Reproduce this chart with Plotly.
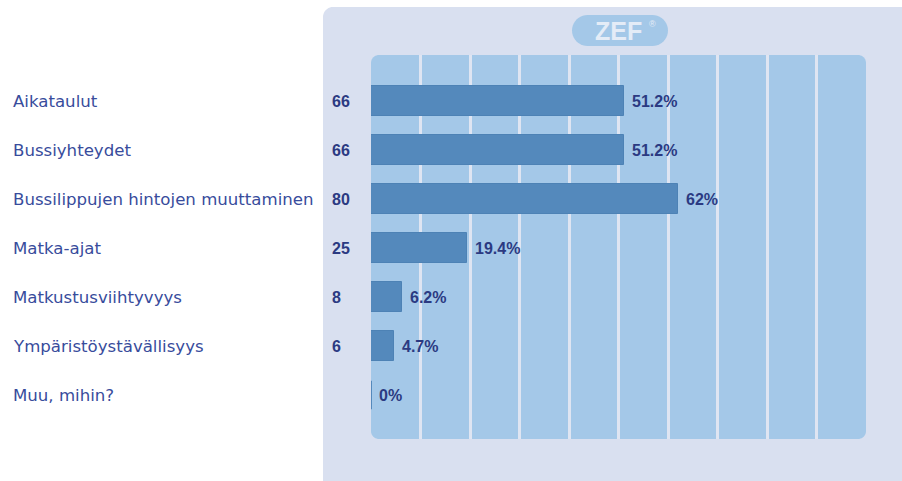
import math
import plotly.graph_objects as go

# ---------------- data ----------------
categories = [
    "Aikataulut",
    "Bussiyhteydet",
    "Bussilippujen hintojen muuttaminen",
    "Matka-ajat",
    "Matkustusviihtyvyys",
    "Ympäristöystävällisyys",
    "Muu, mihin?",
]
counts = [66, 66, 80, 25, 8, 6, 0]
percents = [51.2, 51.2, 62, 19.4, 6.2, 4.7, 0]
pct_labels = ["51.2%", "51.2%", "62%", "19.4%", "6.2%", "4.7%", "0%"]
grid_ticks = [10, 20, 30, 40, 50, 60, 70, 80, 90]

# ---------------- geometry / style ----------------
W, H = 902, 481
L, R, T, B = 371, 866, 55, 439            # plot area in pixels
ROW0, ROWSTEP = 101, 49                   # first row centre / row spacing (px)

PANEL = "#d9e0f0"
PLOTBG = "#a4c8e8"
GRID = "#dfe5f2"
BAR = "#5489bc"
BAR_LINE = "#4d82b5"
LABEL_COL = "#384c9c"
NUM_COL = "#2b3a82"


def px_x(px):
    return (px - L) / (R - L)


def px_y(py):
    return (B - py) / (B - T)


def rounded_path(x0, y0, x1, y1, r, corners=(True, True, True, True)):
    """Rounded rectangle in pixel coords -> SVG path in paper coords.
    corners: (top-left, top-right, bottom-right, bottom-left)"""
    pts = []

    def arc(cx, cy, a0, a1, rad):
        n = 10
        for k in range(n + 1):
            a = math.radians(a0 + (a1 - a0) * k / n)
            pts.append((cx + rad * math.cos(a), cy + rad * math.sin(a)))

    tl, tr, br, bl = corners
    if tl:
        arc(x0 + r, y0 + r, 180, 270, r)
    else:
        pts.append((x0, y0))
    if tr:
        arc(x1 - r, y0 + r, 270, 360, r)
    else:
        pts.append((x1, y0))
    if br:
        arc(x1 - r, y1 - r, 0, 90, r)
    else:
        pts.append((x1, y1))
    if bl:
        arc(x0 + r, y1 - r, 90, 180, r)
    else:
        pts.append((x0, y1))
    return "M " + " L ".join(f"{px_x(x):.5f},{px_y(y):.5f}" for x, y in pts) + " Z"


shapes = [
    dict(type="path", xref="paper", yref="paper", layer="below",
         path=rounded_path(323, 7, 930, 510, 10, (True, False, False, False)),
         fillcolor=PANEL, line=dict(width=0)),
    dict(type="path", xref="paper", yref="paper", layer="below",
         path=rounded_path(L, T, R, B, 8),
         fillcolor=PLOTBG, line=dict(width=0)),
    dict(type="path", xref="paper", yref="paper", layer="below",
         path=rounded_path(572, 15, 668, 46, 15.5),
         fillcolor=PLOTBG, line=dict(width=0)),
]

# thin marker for zero-valued bars
for i, v in enumerate(percents):
    if v == 0:
        shapes.append(dict(type="line", xref="x", yref="y", layer="above",
                           x0=v, x1=v, y0=i - 0.29, y1=i + 0.29,
                           line=dict(color=BAR, width=2)))

fig = go.Figure()
fig.add_trace(go.Bar(
    x=percents,
    y=list(range(len(categories))),
    orientation="h",
    width=0.6,
    marker=dict(color=BAR, line=dict(color=BAR_LINE, width=1)),
    hoverinfo="skip",
    showlegend=False,
))

annotations = []
for i, (cat, c, v, lab) in enumerate(zip(categories, counts, percents, pct_labels)):
    annotations.append(dict(
        text=cat, xref="paper", yref="y", x=px_x(11), y=i,
        xanchor="left", yanchor="middle", showarrow=False,
        font=dict(family="DejaVu Sans", size=16.6, color=LABEL_COL)))
    if c:
        annotations.append(dict(
            text=str(c), xref="paper", yref="y", x=px_x(330), y=i,
            xanchor="left", yanchor="middle", showarrow=False,
            font=dict(family="Liberation Sans", size=16, color=NUM_COL, weight="bold")))
    annotations.append(dict(
        text=lab, xref="x", yref="y", x=v, y=i, xshift=6,
        xanchor="left", yanchor="middle", showarrow=False,
        font=dict(family="Liberation Sans", size=16, color=NUM_COL, weight="bold")))

annotations.append(dict(
    text="ZEF", xref="paper", yref="paper", x=px_x(618), y=px_y(31),
    xanchor="center", yanchor="middle", showarrow=False,
    font=dict(family="Liberation Sans", size=25, color="#e4ecf7", weight="bold")))
annotations.append(dict(
    text="®", xref="paper", yref="paper", x=px_x(647), y=px_y(24),
    xanchor="left", yanchor="middle", showarrow=False,
    font=dict(family="Liberation Sans", size=9, color="#e4ecf7")))

fig.update_layout(
    width=W, height=H,
    margin=dict(l=L, r=W - R, t=T, b=H - B, pad=0),
    paper_bgcolor="white",
    plot_bgcolor="rgba(0,0,0,0)",
    shapes=shapes,
    annotations=annotations,
    bargap=0,
    xaxis=dict(range=[0, 100], tickvals=grid_ticks, showticklabels=False,
               showgrid=True, gridcolor=GRID, gridwidth=3, zeroline=False,
               showline=False, ticks="", fixedrange=True),
    yaxis=dict(range=[(B - ROW0) / ROWSTEP, (T - ROW0) / ROWSTEP],
               showticklabels=False, showgrid=False, zeroline=False,
               showline=False, ticks="", fixedrange=True),
)

fig.write_html(
    "out.html",
    config=dict(displayModeBar=False),
    post_script="document.body.style.margin='0';document.body.style.overflow='hidden';",
)
